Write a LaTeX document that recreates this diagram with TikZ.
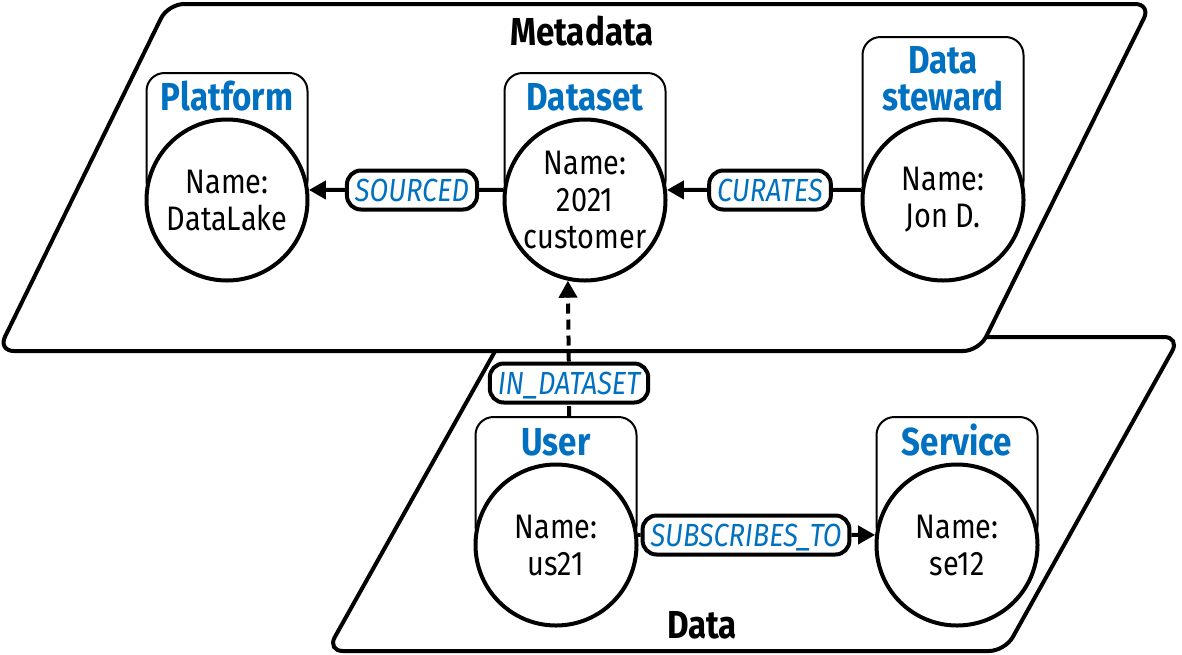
\documentclass[tikz,border=0pt]{standalone}
\usepackage{fontspec}
\setmainfont{Fira Sans}[FakeStretch=0.85]
\usetikzlibrary{arrows.meta,positioning}

\begin{document}
\begin{tikzpicture}[x=0.5pt,y=-0.5pt,
    lane/.style={draw, line width=2pt, fill=white, rounded corners=8pt},
    lanetitle/.style={font=\fontsize{19.5}{18.5}\selectfont\bfseries, inner sep=0pt, anchor=base},
    headbox/.style={draw, line width=1pt, rounded corners=9pt, minimum width=80.5pt, inner sep=0pt, anchor=south},
    headtitle/.style={font=\fontsize{19.5}{18.5}\selectfont\bfseries, text=tab_blue, align=center, inner sep=0pt},
    entity/.style={circle, draw, line width=2pt, fill=white, minimum size=80.5pt, inner sep=0pt, align=center, font=\fontsize{17}{18.5}\selectfont},
    rel/.style={draw, line width=2pt, fill=white, rounded corners=7pt, minimum height=19.5pt, inner xsep=4pt, inner ysep=0pt, text height=11.5pt, text depth=0.5pt, font=\fontsize{16}{18}\selectfont\itshape, text=tab_blue},
    link/.style={line width=2pt, -{Triangle[length=8.5pt,width=9pt]}},
    dashlink/.style={link, dash pattern=on 5pt off 3pt}]
    \definecolor{tab_blue}{HTML}{0070C0}
    \useasboundingbox (0,0) rectangle (1182,654);
    %\draw[help lines,step=50] (0,0) grid (1182,654);
    % lanes
    \draw[lane] (503,337) -- (1180,337) -- (1005,651) -- (327,651) -- cycle;
    \draw[lane] (168,4) -- (1151,4) -- (979,351) -- (-2,351) -- cycle;
    \node[lanetitle] (metattl) at (582,45) {Metadata};
    \node[lanetitle] (datattl) at (702,638) {Data};

    % metadata entities
    \node[headbox, minimum height=63pt] (plathd) at (227,200) {};
    \node[entity] (plat) at (plathd.south) {Name:\\DataLake};
    \node[headtitle, above=3pt of plat] (plattl) {Platform};

    \node[headbox, minimum height=63pt] (dsethd) at (585,200) {};
    \node[entity] (dset) at (dsethd.south) {Name:\\2021\\customer};
    \node[headtitle, above=3pt of dset] (dsettl) {Dataset};

    \node[headbox, minimum height=81pt] (stewhd) at (943,200) {};
    \node[entity] (stew) at (stewhd.south) {Name:\\Jon D.};
    \node[headtitle, above=3pt of stew] (stewtl) {Data\\steward};

    % data entities
    \node[headbox, minimum height=63.5pt] (userhd) at (556,545) {};
    \node[entity] (user) at (userhd.south) {Name:\\us21};
    \node[headtitle, above=3pt of user] (usertl) {User};

    \node[headbox, minimum height=63.5pt] (servhd) at (957,545) {};
    \node[entity] (serv) at (servhd.south) {Name:\\se12};
    \node[headtitle, above=3pt of serv] (servtl) {Service};

    % relations
    \node[rel] (sourced) at (412,190) {SOURCED};
    \node[rel] (curates) at (770,190) {CURATES};
    \node[rel] (indataset) at (569,383) {IN\_DATASET};
    \node[rel] (subscribes) at (746,535) {SUBSCRIBES\_TO};

    \draw[link] (dset.173) -- (sourced) -- (plat.7);
    \draw[link] (stew.173) -- (curates) -- (dset.7);
    \draw[dashlink] (userhd.north -| indataset) -- (indataset) -- (dset.258);
    \draw[link] (user.7) -- (subscribes) -- (serv.173);
\end{tikzpicture}
\end{document}
